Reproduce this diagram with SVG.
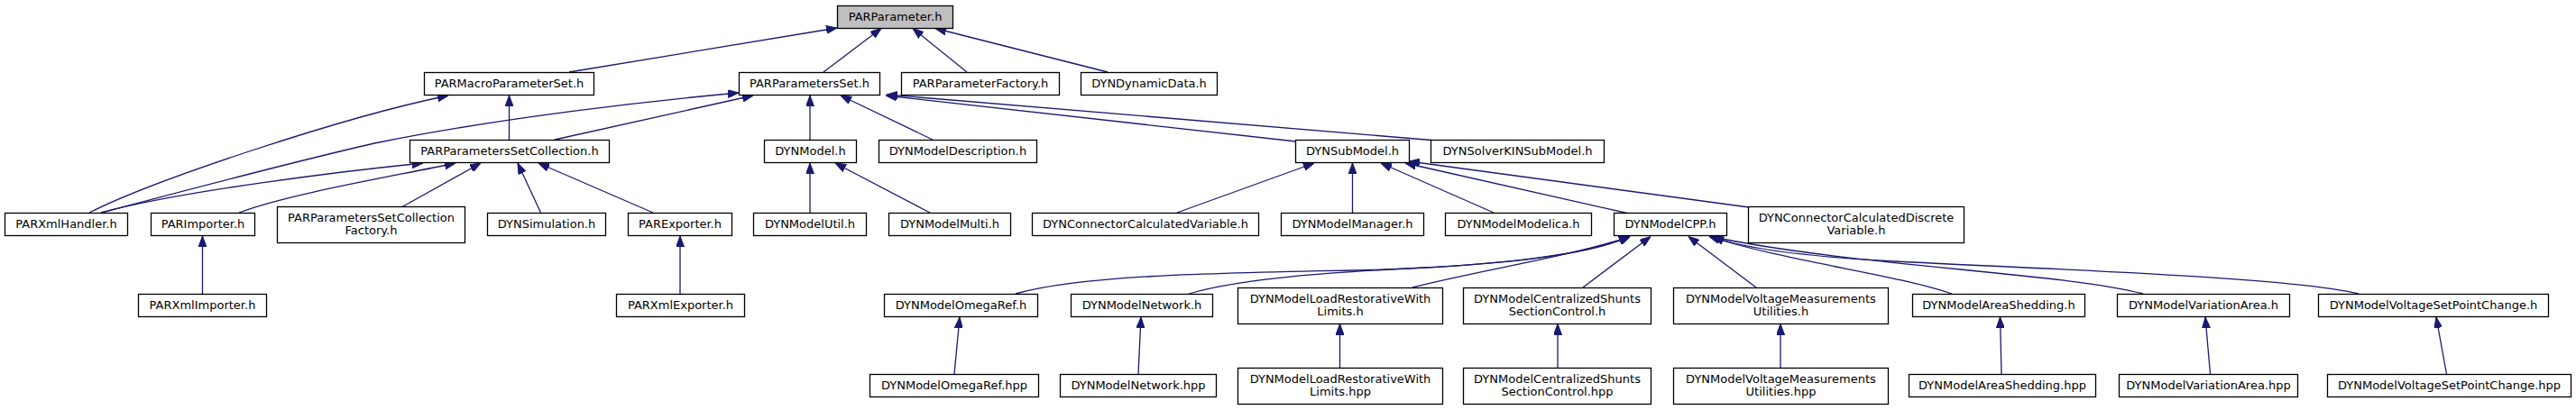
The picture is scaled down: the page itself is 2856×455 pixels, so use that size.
<svg xmlns="http://www.w3.org/2000/svg" width="2856" height="455" viewBox="0 0 2856 455">
<style>
.n rect{fill:#ffffff;stroke:#000000;stroke-width:1.3}
.n.root rect{fill:#bfbfbf}
.n text{font-family:"DejaVu Sans","Liberation Sans",sans-serif;font-size:13px;text-anchor:middle;fill:#000000}
#edges path{fill:none;stroke:#191970;stroke-width:1.3;marker-end:url(#arr)}
</style>
<defs>
<marker id="arr" viewBox="0 0 12 9" refX="12" refY="4.5" markerWidth="12" markerHeight="9" markerUnits="userSpaceOnUse" orient="auto">
<path d="M0,0 L12,4.5 L0,9 z" fill="#191970" stroke="#191970" stroke-width="1"/>
</marker>
</defs>
<rect x="0" y="0" width="2856" height="455" fill="#ffffff"/>
<g id="edges">
<path d="M631,80 L928,31"/>
<path d="M913,80 L977,31.5"/>
<path d="M1072,80 L1012,31.5"/>
<path d="M1228,80 L1037,31.5"/>
<path d="M99,236 C170,200 380,130 497,106"/>
<path d="M564.5,155 L564.5,106"/>
<path d="M112,236 C200,213 330,178 420,158 C560,130 720,112 819,103"/>
<path d="M615,155 L835,106"/>
<path d="M112,236 C200,212 380,190 469,181"/>
<path d="M265,236 C320,215 440,195 505,181"/>
<path d="M446,229.5 L533,181"/>
<path d="M599.5,236 L574,181"/>
<path d="M724,236 L597,181"/>
<path d="M898,155 L898,106"/>
<path d="M1034,155 L932,106"/>
<path d="M1437,157 L982,106"/>
<path d="M1587,155.5 L983,105"/>
<path d="M898,236 L898,181"/>
<path d="M1031,236 L926,181"/>
<path d="M1305,236 L1457,181"/>
<path d="M1499.5,236 L1499.5,181"/>
<path d="M1656,236 L1531,181"/>
<path d="M1806,237 L1558,181"/>
<path d="M1939,230 L1562,179"/>
<path d="M224.5,326 L224.5,262"/>
<path d="M754,326 L754,262"/>
<path d="M1126,326 C1200,305 1350,303 1500,300 C1650,296 1760,284 1807,262.5"/>
<path d="M1318,326 C1380,308 1480,302 1580,297 C1690,291 1765,280 1807,262.5"/>
<path d="M1566,319 C1640,300 1740,285 1807,262.5"/>
<path d="M1755,319 L1830,262.5"/>
<path d="M1947,319 L1872,262.5"/>
<path d="M2164,326 C2100,304 1980,290 1895,262.5"/>
<path d="M2376,326 C2290,303 2050,295 1897,262.5"/>
<path d="M2615,326 C2540,308 2300,300 2100,290 C1990,284 1930,275 1899,262.5"/>
<path d="M1058,415 L1064,352"/>
<path d="M1262,415 L1265,352"/>
<path d="M1485.5,408 L1485.5,359.5"/>
<path d="M1727,408 L1727,359.5"/>
<path d="M1974,408 L1974,359.5"/>
<path d="M2219,415 L2217.5,352"/>
<path d="M2450.5,415 L2445,352"/>
<path d="M2712.5,415 L2701,352"/>
</g>
<g id="n_PARParameter" class="n root"><rect x="928.5" y="6.5" width="128" height="25"/><text x="992.5" y="23">PARParameter.h</text></g>
<g id="n_PARMacroParameterSet" class="n"><rect x="470.5" y="80.5" width="188" height="25"/><text x="564.5" y="97">PARMacroParameterSet.h</text></g>
<g id="n_PARParametersSet" class="n"><rect x="819.5" y="80.5" width="156" height="25"/><text x="897.5" y="97">PARParametersSet.h</text></g>
<g id="n_PARParameterFactory" class="n"><rect x="999.5" y="80.5" width="175" height="25"/><text x="1087" y="97">PARParameterFactory.h</text></g>
<g id="n_DYNDynamicData" class="n"><rect x="1198.5" y="80.5" width="151" height="25"/><text x="1274" y="97">DYNDynamicData.h</text></g>
<g id="n_PARParametersSetCollection" class="n"><rect x="454.5" y="155.5" width="221" height="25"/><text x="565" y="172">PARParametersSetCollection.h</text></g>
<g id="n_DYNModel" class="n"><rect x="847.5" y="155.5" width="102" height="25"/><text x="898.5" y="172">DYNModel.h</text></g>
<g id="n_DYNModelDescription" class="n"><rect x="974.5" y="155.5" width="175" height="25"/><text x="1062" y="172">DYNModelDescription.h</text></g>
<g id="n_DYNSubModel" class="n"><rect x="1436.5" y="155.5" width="126" height="25"/><text x="1499.5" y="172">DYNSubModel.h</text></g>
<g id="n_DYNSolverKINSubModel" class="n"><rect x="1586.5" y="155.5" width="192" height="25"/><text x="1682.5" y="172">DYNSolverKINSubModel.h</text></g>
<g id="n_PARXmlHandler" class="n"><rect x="5.5" y="236.5" width="136" height="25"/><text x="73.5" y="253">PARXmlHandler.h</text></g>
<g id="n_PARImporter" class="n"><rect x="167.5" y="236.5" width="115" height="25"/><text x="225" y="253">PARImporter.h</text></g>
<g id="n_PARParametersSetCollectionFactory" class="n"><rect x="307.5" y="229.5" width="208" height="40"/><text x="411.5" y="245.5">PARParametersSetCollection</text><text x="411.5" y="259.5">Factory.h</text></g>
<g id="n_DYNSimulation" class="n"><rect x="540.5" y="236.5" width="131" height="25"/><text x="606" y="253">DYNSimulation.h</text></g>
<g id="n_PARExporter" class="n"><rect x="696.5" y="236.5" width="115" height="25"/><text x="754" y="253">PARExporter.h</text></g>
<g id="n_DYNModelUtil" class="n"><rect x="835.5" y="236.5" width="125" height="25"/><text x="898" y="253">DYNModelUtil.h</text></g>
<g id="n_DYNModelMulti" class="n"><rect x="985.5" y="236.5" width="135" height="25"/><text x="1053" y="253">DYNModelMulti.h</text></g>
<g id="n_DYNConnectorCalculatedVariable" class="n"><rect x="1144.5" y="236.5" width="251" height="25"/><text x="1270" y="253">DYNConnectorCalculatedVariable.h</text></g>
<g id="n_DYNModelManager" class="n"><rect x="1420.5" y="236.5" width="158" height="25"/><text x="1499.5" y="253">DYNModelManager.h</text></g>
<g id="n_DYNModelModelica" class="n"><rect x="1602.5" y="236.5" width="162" height="25"/><text x="1683.5" y="253">DYNModelModelica.h</text></g>
<g id="n_DYNModelCPP" class="n"><rect x="1789.5" y="236.5" width="125" height="25"/><text x="1852" y="253">DYNModelCPP.h</text></g>
<g id="n_DYNConnectorCalculatedDiscreteVariable" class="n"><rect x="1938.5" y="229.5" width="239" height="40"/><text x="2058" y="245.5">DYNConnectorCalculatedDiscrete</text><text x="2058" y="259.5">Variable.h</text></g>
<g id="n_PARXmlImporter" class="n"><rect x="153.5" y="326.5" width="142" height="25"/><text x="224.5" y="343">PARXmlImporter.h</text></g>
<g id="n_PARXmlExporter" class="n"><rect x="683.5" y="326.5" width="142" height="25"/><text x="754.5" y="343">PARXmlExporter.h</text></g>
<g id="n_DYNModelOmegaRef_h" class="n"><rect x="980.5" y="326.5" width="170" height="25"/><text x="1065.5" y="343">DYNModelOmegaRef.h</text></g>
<g id="n_DYNModelNetwork_h" class="n"><rect x="1187.5" y="326.5" width="157" height="25"/><text x="1266" y="343">DYNModelNetwork.h</text></g>
<g id="n_DYNModelLoadRestorativeWithLimits_h" class="n"><rect x="1372.5" y="319.5" width="227" height="40"/><text x="1486" y="335.5">DYNModelLoadRestorativeWith</text><text x="1486" y="349.5">Limits.h</text></g>
<g id="n_DYNModelCentralizedShuntsSectionControl_h" class="n"><rect x="1622.5" y="319.5" width="208" height="40"/><text x="1726.5" y="335.5">DYNModelCentralizedShunts</text><text x="1726.5" y="349.5">SectionControl.h</text></g>
<g id="n_DYNModelVoltageMeasurementsUtilities_h" class="n"><rect x="1855.5" y="319.5" width="238" height="40"/><text x="1974.5" y="335.5">DYNModelVoltageMeasurements</text><text x="1974.5" y="349.5">Utilities.h</text></g>
<g id="n_DYNModelAreaShedding_h" class="n"><rect x="2120.5" y="326.5" width="191" height="25"/><text x="2216" y="343">DYNModelAreaShedding.h</text></g>
<g id="n_DYNModelVariationArea_h" class="n"><rect x="2347.5" y="326.5" width="191" height="25"/><text x="2443" y="343">DYNModelVariationArea.h</text></g>
<g id="n_DYNModelVoltageSetPointChange_h" class="n"><rect x="2570.5" y="326.5" width="255" height="25"/><text x="2698" y="343">DYNModelVoltageSetPointChange.h</text></g>
<g id="n_DYNModelOmegaRef_hpp" class="n"><rect x="964.5" y="415.5" width="187" height="25"/><text x="1058" y="432">DYNModelOmegaRef.hpp</text></g>
<g id="n_DYNModelNetwork_hpp" class="n"><rect x="1175.5" y="415.5" width="173" height="25"/><text x="1262" y="432">DYNModelNetwork.hpp</text></g>
<g id="n_DYNModelLoadRestorativeWithLimits_hpp" class="n"><rect x="1372.5" y="408.5" width="227" height="40"/><text x="1486" y="424.5">DYNModelLoadRestorativeWith</text><text x="1486" y="438.5">Limits.hpp</text></g>
<g id="n_DYNModelCentralizedShuntsSectionControl_hpp" class="n"><rect x="1622.5" y="408.5" width="208" height="40"/><text x="1726.5" y="424.5">DYNModelCentralizedShunts</text><text x="1726.5" y="438.5">SectionControl.hpp</text></g>
<g id="n_DYNModelVoltageMeasurementsUtilities_hpp" class="n"><rect x="1855.5" y="408.5" width="238" height="40"/><text x="1974.5" y="424.5">DYNModelVoltageMeasurements</text><text x="1974.5" y="438.5">Utilities.hpp</text></g>
<g id="n_DYNModelAreaShedding_hpp" class="n"><rect x="2116.5" y="415.5" width="207" height="25"/><text x="2220" y="432">DYNModelAreaShedding.hpp</text></g>
<g id="n_DYNModelVariationArea_hpp" class="n"><rect x="2349.5" y="415.5" width="198" height="25"/><text x="2448.5" y="432">DYNModelVariationArea.hpp</text></g>
<g id="n_DYNModelVoltageSetPointChange_hpp" class="n"><rect x="2580.5" y="415.5" width="270" height="25"/><text x="2715.5" y="432">DYNModelVoltageSetPointChange.hpp</text></g>
</svg>
